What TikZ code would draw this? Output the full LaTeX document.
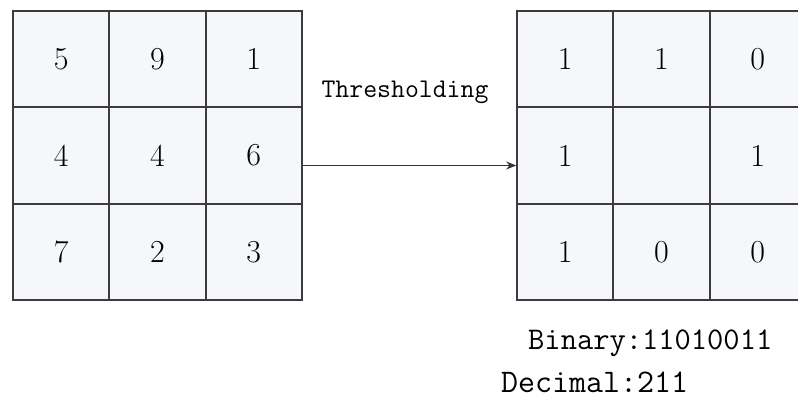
\documentclass[tikz,border=0pt]{standalone}
\usepackage{fontspec}
\usetikzlibrary{positioning, arrows.meta}
\definecolor{cellfill}{HTML}{F6F7FB}
\definecolor{gridline}{HTML}{3C3C3C}
\tikzset{
>={Stealth[length=10pt, width=8pt]}, % arrow heads
cell/.style={draw=gridline, line width=1.8pt, fill=cellfill, minimum size=96.3pt, inner sep=0pt, font=\fontsize{32}{36}\selectfont}, % one square of a window
note/.style={inner sep=0pt, font=\ttfamily\fontsize{27}{30}\selectfont}, % monospaced labels
}

\begin{document}
\begin{tikzpicture}[x=1pt, y=-1pt]
        \useasboundingbox (0,0) rectangle (798,406);
        \clip (0,0) rectangle (798,406);

        % input window
        \foreach \a/\b/\c [count=\r] in {5/9/1, 4/4/6, 7/2/3} {
            \node[cell] (in-\r-1) at (61.2, {59.2+96.3*(\r-1)}) {\a};
            \node[cell] (in-\r-2) at (157.5, {59.2+96.3*(\r-1)}) {\b};
            \node[cell] (in-\r-3) at (253.8, {59.2+96.3*(\r-1)}) {\c};
        }

        % thresholded window
        \foreach \a/\b/\c [count=\r] in {1/1/0, 1//1, 1/0/0} {
            \node[cell] (out-\r-1) at (565.2, {59.2+96.3*(\r-1)}) {\a};
            \node[cell] (out-\r-2) at (661.5, {59.2+96.3*(\r-1)}) {\b};
            \node[cell] (out-\r-3) at (757.8, {59.2+96.3*(\r-1)}) {\c};
        }

        \draw[->, line width=1pt, draw=black!80] ([yshift=-10pt]in-2-3.east) -- ([yshift=-10pt]out-2-1.west);
        \node[note] (thresholding) at (405, 92) {Thresholding};

        \node[note, anchor=west, font=\ttfamily\fontsize{31.6}{34}\selectfont] (binary) at (528, 343) {Binary:11010011};
        \node[note, anchor=west, font=\ttfamily\fontsize{33}{36}\selectfont] (decimal) at (501, 382) {Decimal:211};
    \end{tikzpicture}
\end{document}
